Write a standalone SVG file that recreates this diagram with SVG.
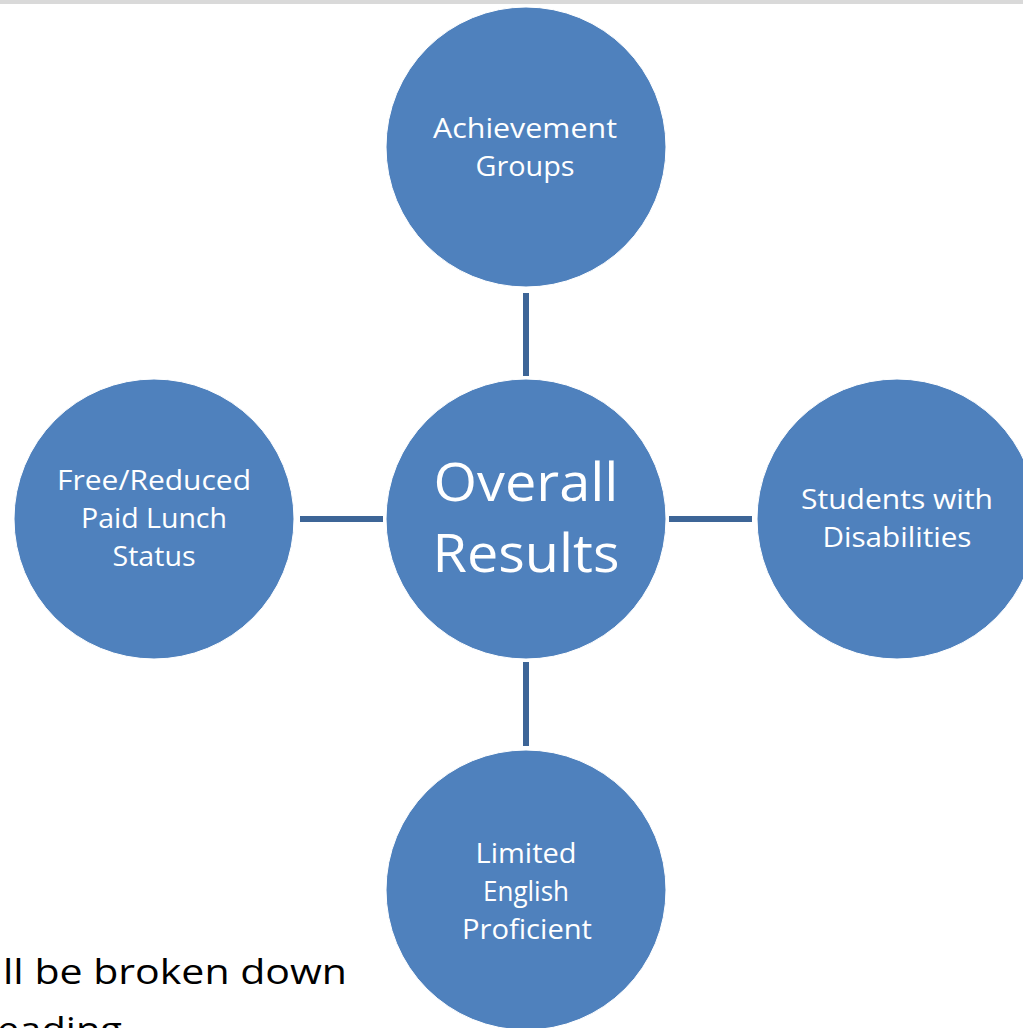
<svg xmlns="http://www.w3.org/2000/svg" width="1023" height="1028" viewBox="0 0 1023 1028">
<style>
.node{fill:#4f81bd;stroke:#ffffff;stroke-width:1}
.lbl{font-family:"Open Sans","Noto Sans","Liberation Sans",sans-serif;fill:#ffffff;text-anchor:middle;font-size:28px}
.big{font-size:53px}
.conn{stroke:#3d6597;stroke-width:6;fill:none}
.body{font-family:"Open Sans","Noto Sans","Liberation Sans",sans-serif;fill:#000000;font-size:35px}
</style>
<rect x="0" y="0" width="1023" height="1028" fill="#ffffff"/>
<rect x="0" y="0" width="1023" height="4" fill="#d9d9d9"/>
<text class="body" x="3" y="984" textLength="344" lengthAdjust="spacingAndGlyphs">ll be broken down</text>
<text class="body" x="-3" y="1042" textLength="125" lengthAdjust="spacingAndGlyphs">eading</text>
<g id="connectors">
<line class="conn" x1="526" y1="293" x2="526" y2="376"/>
<line class="conn" x1="526" y1="662" x2="526" y2="746"/>
<line class="conn" x1="300" y1="519" x2="383" y2="519"/>
<line class="conn" x1="669" y1="519" x2="752" y2="519"/>
</g>
<g id="node-overall">
<circle class="node" cx="526" cy="519" r="140"/>
<text class="lbl big" x="526" y="501" textLength="185" lengthAdjust="spacingAndGlyphs">Overall</text>
<text class="lbl big" x="526" y="572" textLength="187" lengthAdjust="spacingAndGlyphs">Results</text>
</g>
<g id="node-achievement">
<circle class="node" cx="526" cy="147" r="140"/>
<text class="lbl" x="525" y="138" textLength="184" lengthAdjust="spacingAndGlyphs">Achievement</text>
<text class="lbl" x="525" y="176" textLength="99" lengthAdjust="spacingAndGlyphs">Groups</text>
</g>
<g id="node-freelunch">
<circle class="node" cx="154" cy="519" r="140"/>
<text class="lbl" x="154" y="490" textLength="194" lengthAdjust="spacingAndGlyphs">Free/Reduced</text>
<text class="lbl" x="154" y="528" textLength="146" lengthAdjust="spacingAndGlyphs">Paid Lunch</text>
<text class="lbl" x="154" y="566" textLength="83" lengthAdjust="spacingAndGlyphs">Status</text>
</g>
<g id="node-disabilities">
<circle class="node" cx="897" cy="519" r="140"/>
<text class="lbl" x="897" y="509" textLength="192" lengthAdjust="spacingAndGlyphs">Students with</text>
<text class="lbl" x="897" y="547" textLength="149" lengthAdjust="spacingAndGlyphs">Disabilities</text>
</g>
<g id="node-lep">
<circle class="node" cx="526" cy="890" r="140"/>
<text class="lbl" x="526" y="863" textLength="101" lengthAdjust="spacingAndGlyphs">Limited</text>
<text class="lbl" x="526" y="901" textLength="86" lengthAdjust="spacingAndGlyphs">English</text>
<text class="lbl" x="527" y="939" textLength="130" lengthAdjust="spacingAndGlyphs">Proficient</text>
</g>
</svg>
